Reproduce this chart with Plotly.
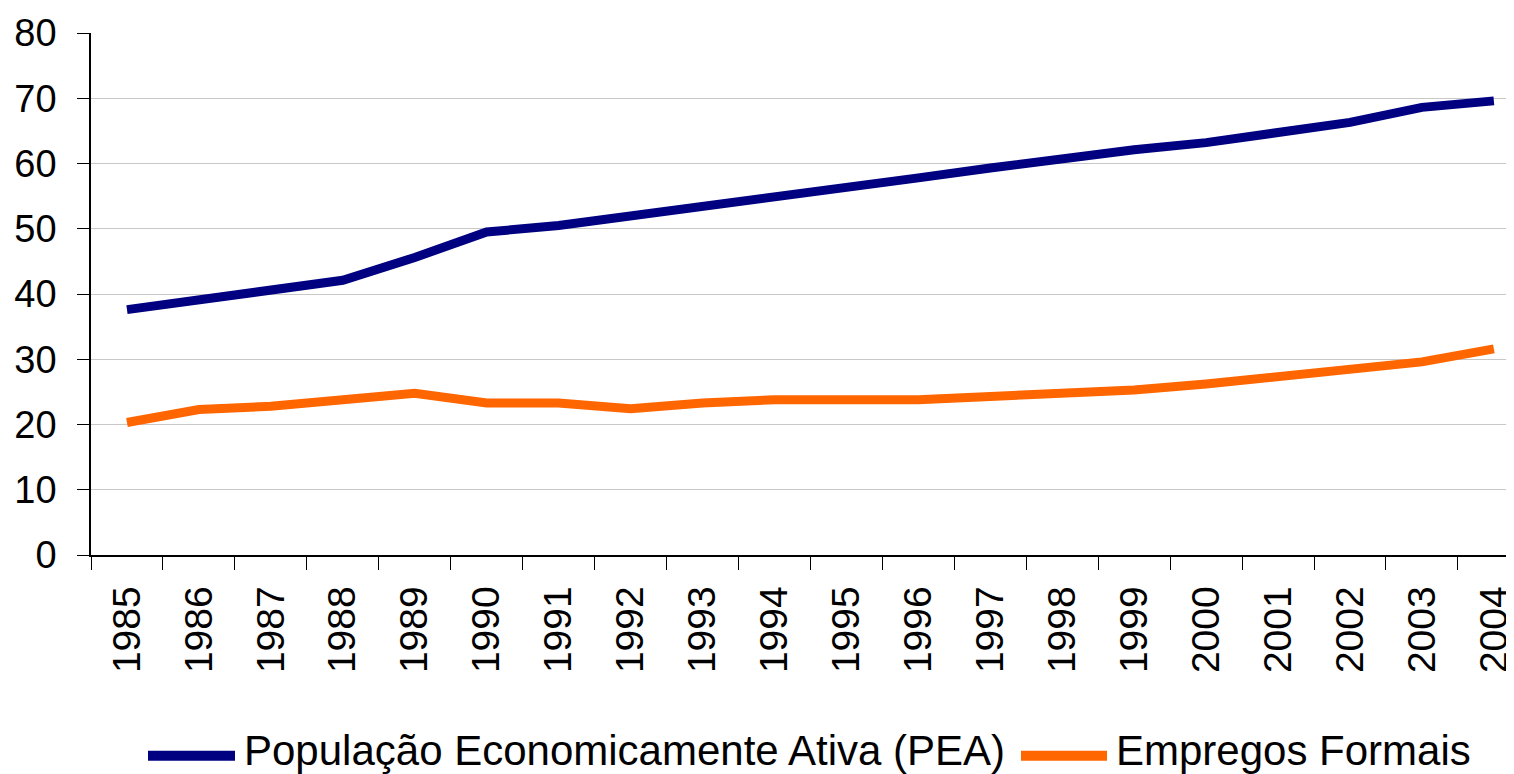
import plotly.graph_objects as go

years = [str(y) for y in range(1985, 2005)]
pea = [37.6, 39.1, 40.6, 42.1, 45.6, 49.5, 50.5, 51.9, 53.4, 54.9,
       56.3, 57.8, 59.3, 60.8, 62.1, 63.2, 64.7, 66.3, 68.6, 69.6]
formais = [20.3, 22.3, 22.8, 23.8, 24.8, 23.3, 23.3, 22.4, 23.3, 23.8,
           23.8, 23.8, 24.3, 24.8, 25.3, 26.2, 27.3, 28.6, 29.6, 31.6]
series_names = ["População Economicamente Ativa (PEA)", "Empregos Formais"]
series_colors = ["#000080", "#FF6600"]

# the page body has an 8px margin, so the figure is drawn 8px in from the window corner
OFF = 8
W, H = 1514 - OFF, 774 - OFF
ML, MR, MT, MB = 91 - OFF, 0, 33 - OFF, 774 - 555
PW, PH = W - ML - MR, H - MT - MB

def px_x(p):  # screen pixel -> paper
    return (p - OFF - ML) / PW

def px_y(p):
    return (H - MB - (p - OFF)) / PH

fig = go.Figure()
for name, vals, col in zip(series_names, [pea, formais], series_colors):
    fig.add_trace(go.Scatter(x=years, y=vals, mode="lines", name=name,
                             line=dict(color=col, width=9), showlegend=False))

font = "Liberation Sans, Arial, sans-serif"
fig.update_layout(
    width=W, height=H,
    margin=dict(l=ML, r=MR, t=MT, b=MB, autoexpand=False),
    paper_bgcolor="white", plot_bgcolor="white",
    font=dict(family=font, color="black"),
    xaxis=dict(type="category", range=[-0.5, 19.28], tickson="boundaries",
               ticks="outside", ticklen=13, tickcolor="black", tickwidth=1,
               showgrid=False, showline=True, linecolor="black", linewidth=1.5,
               tickangle=-90, tickfont=dict(size=39), ticklabelstandoff=14,
               automargin=False),
    yaxis=dict(range=[0, 80], dtick=10, ticks="outside", ticklen=12,
               tickcolor="black", tickwidth=1, showgrid=True, gridcolor="#c8c8c8",
               gridwidth=1, showline=True, linecolor="black", linewidth=1.5,
               zeroline=False, tickfont=dict(size=38), ticklabelstandoff=13,
               automargin=False),
)

# legend drawn manually to match the long line samples
leg_y = 755.7
text_y = 750
legend_items = [(148, 235, 242), (1021, 1107, 1114)]
for (x0, x1, tx), name, col in zip(legend_items, series_names, series_colors):
    fig.add_shape(type="line", xref="paper", yref="paper",
                  x0=px_x(x0), x1=px_x(x1), y0=px_y(leg_y), y1=px_y(leg_y),
                  line=dict(color=col, width=10))
    fig.add_annotation(xref="paper", yref="paper", x=px_x(tx), y=px_y(text_y),
                       text=name, showarrow=False, xanchor="left", yanchor="middle",
                       font=dict(size=42, family=font, color="black"))

fig.write_html("out.html")
